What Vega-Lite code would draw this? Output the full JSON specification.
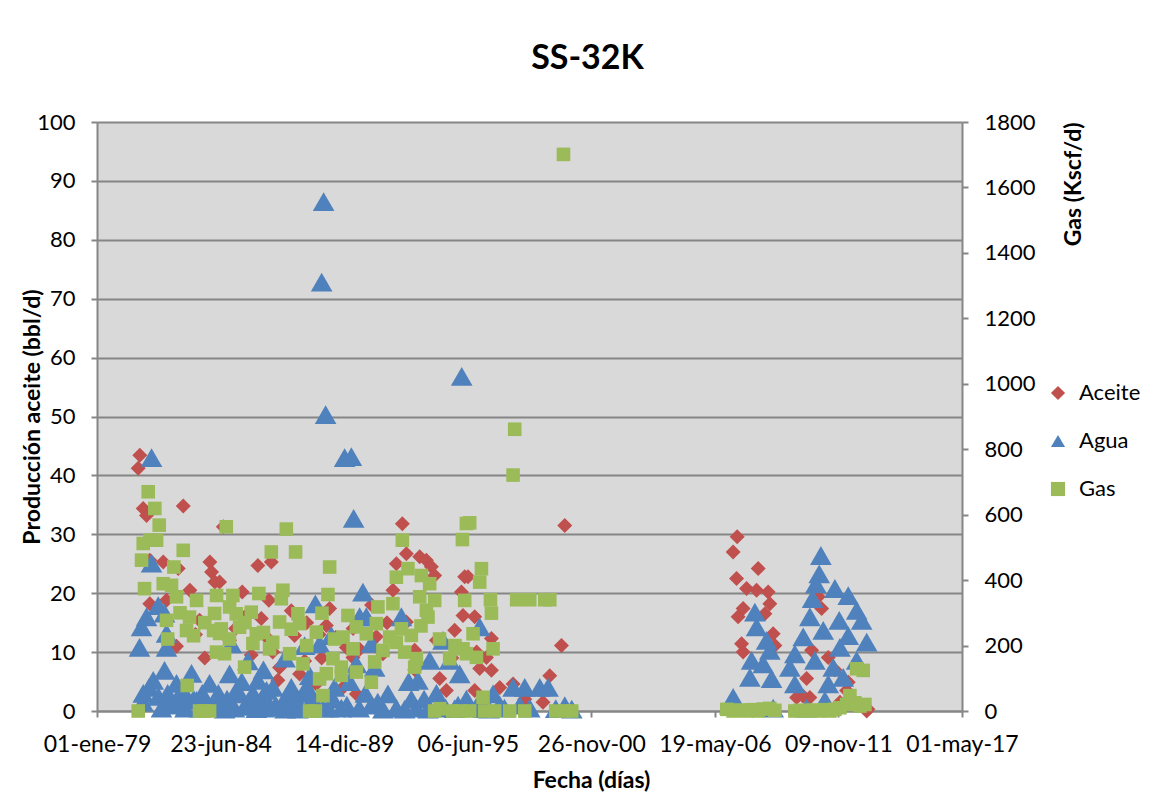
{
  "$schema": "https://vega.github.io/schema/vega-lite/v6.json",
  "width": 865,
  "height": 589,
  "autosize": {"type": "none"},
  "padding": {"left": 97, "top": 122, "right": 203, "bottom": 82},
  "background": "white",
  "title": {"text": "SS-32K", "font": "Lato", "fontSize": 34, "fontWeight": "bold", "color": "black", "anchor": "middle", "dx": 58, "offset": 8, "baseline": "alphabetic"},
  "config": {
    "view": {"fill": "#d9d9d9", "stroke": null},
    "axis": {"labelFont": "Lato", "titleFont": "Lato", "labelColor": "black", "titleColor": "black", "labelFontSize": 22, "titleFontSize": 23, "titleFontWeight": "bold", "domainColor": "#868686", "domainWidth": 2, "tickColor": "#868686", "tickWidth": 2, "tickSize": 6, "labelPadding": 16, "gridColor": "#868686", "gridWidth": 2, "gridOpacity": 1},
    "legend": {"labelFont": "Lato", "labelFontSize": 22, "labelColor": "black", "padding": 0}
  },
  "datasets": {
    "prod": [
      {"fecha": 29549, "serie": "Aceite", "valor": 43.4},
      {"fecha": 29523, "serie": "Aceite", "valor": 41.2},
      {"fecha": 29604, "serie": "Aceite", "valor": 34.4},
      {"fecha": 29658, "serie": "Aceite", "valor": 33.2},
      {"fecha": 30252, "serie": "Aceite", "valor": 34.8},
      {"fecha": 30900, "serie": "Aceite", "valor": 31.3},
      {"fecha": 29711, "serie": "Aceite", "valor": 25.6},
      {"fecha": 29928, "serie": "Aceite", "valor": 25.3},
      {"fecha": 30171, "serie": "Aceite", "valor": 24.2},
      {"fecha": 30683, "serie": "Aceite", "valor": 25.3},
      {"fecha": 30710, "serie": "Aceite", "valor": 23.6},
      {"fecha": 30764, "serie": "Aceite", "valor": 21.9},
      {"fecha": 30359, "serie": "Aceite", "valor": 20.5},
      {"fecha": 29711, "serie": "Aceite", "valor": 18.2},
      {"fecha": 29981, "serie": "Aceite", "valor": 18.8},
      {"fecha": 31460, "serie": "Aceite", "valor": 24.7},
      {"fecha": 31677, "serie": "Aceite", "valor": 25.3},
      {"fecha": 30840, "serie": "Aceite", "valor": 21.9},
      {"fecha": 31207, "serie": "Aceite", "valor": 20.2},
      {"fecha": 31638, "serie": "Aceite", "valor": 18.8},
      {"fecha": 32621, "serie": "Aceite", "valor": 17.4},
      {"fecha": 31515, "serie": "Aceite", "valor": 15.7},
      {"fecha": 32054, "serie": "Aceite", "valor": 12.8},
      {"fecha": 32568, "serie": "Aceite", "valor": 14.5},
      {"fecha": 31811, "serie": "Aceite", "valor": 7.4},
      {"fecha": 31784, "serie": "Aceite", "valor": 5.2},
      {"fecha": 32135, "serie": "Aceite", "valor": 6.3},
      {"fecha": 32837, "serie": "Aceite", "valor": 4.0},
      {"fecha": 32406, "serie": "Aceite", "valor": 4.6},
      {"fecha": 33798, "serie": "Aceite", "valor": 31.8},
      {"fecha": 33863, "serie": "Aceite", "valor": 26.7},
      {"fecha": 34079, "serie": "Aceite", "valor": 26.2},
      {"fecha": 34187, "serie": "Aceite", "valor": 25.6},
      {"fecha": 33701, "serie": "Aceite", "valor": 25.0},
      {"fecha": 34268, "serie": "Aceite", "valor": 24.5},
      {"fecha": 34321, "serie": "Aceite", "valor": 23.0},
      {"fecha": 33646, "serie": "Aceite", "valor": 20.5},
      {"fecha": 34807, "serie": "Aceite", "valor": 22.8},
      {"fecha": 34754, "serie": "Aceite", "valor": 20.2},
      {"fecha": 34780, "serie": "Aceite", "valor": 16.2},
      {"fecha": 33863, "serie": "Aceite", "valor": 15.1},
      {"fecha": 33377, "serie": "Aceite", "valor": 12.6},
      {"fecha": 34645, "serie": "Aceite", "valor": 13.7},
      {"fecha": 32892, "serie": "Aceite", "valor": 10.8},
      {"fecha": 32998, "serie": "Aceite", "valor": 9.1},
      {"fecha": 33054, "serie": "Aceite", "valor": 2.9},
      {"fecha": 34511, "serie": "Aceite", "valor": 3.5},
      {"fecha": 36427, "serie": "Aceite", "valor": 31.5},
      {"fecha": 34861, "serie": "Aceite", "valor": 22.8},
      {"fecha": 34969, "serie": "Aceite", "valor": 16.0},
      {"fecha": 35240, "serie": "Aceite", "valor": 12.3},
      {"fecha": 35159, "serie": "Aceite", "valor": 9.1},
      {"fecha": 35050, "serie": "Aceite", "valor": 7.2},
      {"fecha": 35240, "serie": "Aceite", "valor": 6.9},
      {"fecha": 36373, "serie": "Aceite", "valor": 11.1},
      {"fecha": 36184, "serie": "Aceite", "valor": 6.0},
      {"fecha": 34969, "serie": "Aceite", "valor": 3.5},
      {"fecha": 35590, "serie": "Aceite", "valor": 4.6},
      {"fecha": 36075, "serie": "Aceite", "valor": 1.5},
      {"fecha": 30516, "serie": "Aceite", "valor": 15.4},
      {"fecha": 31002, "serie": "Aceite", "valor": 12.0},
      {"fecha": 31353, "serie": "Aceite", "valor": 9.5},
      {"fecha": 32216, "serie": "Aceite", "valor": 8.5},
      {"fecha": 32718, "serie": "Aceite", "valor": 12.5},
      {"fecha": 33107, "serie": "Aceite", "valor": 10.5},
      {"fecha": 33484, "serie": "Aceite", "valor": 9.7},
      {"fecha": 33998, "serie": "Aceite", "valor": 10.3},
      {"fecha": 34402, "serie": "Aceite", "valor": 5.5},
      {"fecha": 35374, "serie": "Aceite", "valor": 4.0},
      {"fecha": 35779, "serie": "Aceite", "valor": 2.0},
      {"fecha": 31649, "serie": "Aceite", "valor": 12.0},
      {"fecha": 32492, "serie": "Aceite", "valor": 9.0},
      {"fecha": 30143, "serie": "Aceite", "valor": 11.0},
      {"fecha": 30450, "serie": "Aceite", "valor": 13.0},
      {"fecha": 30600, "serie": "Aceite", "valor": 9.0},
      {"fecha": 31100, "serie": "Aceite", "valor": 14.0},
      {"fecha": 31250, "serie": "Aceite", "valor": 16.0},
      {"fecha": 31700, "serie": "Aceite", "valor": 10.0},
      {"fecha": 32000, "serie": "Aceite", "valor": 17.0},
      {"fecha": 32250, "serie": "Aceite", "valor": 15.0},
      {"fecha": 32450, "serie": "Aceite", "valor": 13.0},
      {"fecha": 33000, "serie": "Aceite", "valor": 14.0},
      {"fecha": 33300, "serie": "Aceite", "valor": 18.0},
      {"fecha": 33550, "serie": "Aceite", "valor": 15.0},
      {"fecha": 34000, "serie": "Aceite", "valor": 7.0},
      {"fecha": 34350, "serie": "Aceite", "valor": 12.0},
      {"fecha": 34600, "serie": "Aceite", "valor": 9.0},
      {"fecha": 35000, "serie": "Aceite", "valor": 10.0},
      {"fecha": 39217, "serie": "Aceite", "valor": 29.6},
      {"fecha": 39152, "serie": "Aceite", "valor": 27.0},
      {"fecha": 39557, "serie": "Aceite", "valor": 24.2},
      {"fecha": 39207, "serie": "Aceite", "valor": 22.5},
      {"fecha": 39369, "serie": "Aceite", "valor": 20.8},
      {"fecha": 39531, "serie": "Aceite", "valor": 20.5},
      {"fecha": 39719, "serie": "Aceite", "valor": 20.2},
      {"fecha": 39746, "serie": "Aceite", "valor": 18.2},
      {"fecha": 39314, "serie": "Aceite", "valor": 17.4},
      {"fecha": 39233, "serie": "Aceite", "valor": 16.0},
      {"fecha": 39666, "serie": "Aceite", "valor": 16.5},
      {"fecha": 39800, "serie": "Aceite", "valor": 13.1},
      {"fecha": 39288, "serie": "Aceite", "valor": 11.4},
      {"fecha": 39314, "serie": "Aceite", "valor": 10.0},
      {"fecha": 39827, "serie": "Aceite", "valor": 11.1},
      {"fecha": 40341, "serie": "Aceite", "valor": 5.5},
      {"fecha": 40179, "serie": "Aceite", "valor": 2.3},
      {"fecha": 40394, "serie": "Aceite", "valor": 2.3},
      {"fecha": 40691, "serie": "Aceite", "valor": 9.1},
      {"fecha": 41015, "serie": "Aceite", "valor": 4.9},
      {"fecha": 40989, "serie": "Aceite", "valor": 3.5},
      {"fecha": 41313, "serie": "Aceite", "valor": 0.0},
      {"fecha": 40880, "serie": "Aceite", "valor": 1.5},
      {"fecha": 40422, "serie": "Aceite", "valor": 10.3},
      {"fecha": 40529, "serie": "Aceite", "valor": 19.4},
      {"fecha": 40584, "serie": "Aceite", "valor": 17.4},
      {"fecha": 41334, "serie": "Aceite", "valor": 0.3},
      {"fecha": 40286, "serie": "Aceite", "valor": 2.5},
      {"fecha": 40799, "serie": "Aceite", "valor": 7.0},

      {"fecha": 29739, "serie": "Agua", "valor": 43.0},
      {"fecha": 29739, "serie": "Agua", "valor": 25.1},
      {"fecha": 29847, "serie": "Agua", "valor": 17.9},
      {"fecha": 29658, "serie": "Agua", "valor": 16.0},
      {"fecha": 29577, "serie": "Agua", "valor": 14.3},
      {"fecha": 29544, "serie": "Agua", "valor": 10.8},
      {"fecha": 29949, "serie": "Agua", "valor": 16.6},
      {"fecha": 29981, "serie": "Agua", "valor": 13.2},
      {"fecha": 29981, "serie": "Agua", "valor": 10.8},
      {"fecha": 29604, "serie": "Agua", "valor": 3.0},
      {"fecha": 29766, "serie": "Agua", "valor": 5.2},
      {"fecha": 29949, "serie": "Agua", "valor": 6.9},
      {"fecha": 30143, "serie": "Agua", "valor": 4.7},
      {"fecha": 30386, "serie": "Agua", "valor": 6.4},
      {"fecha": 30678, "serie": "Agua", "valor": 4.7},
      {"fecha": 30791, "serie": "Agua", "valor": 1.8},
      {"fecha": 30467, "serie": "Agua", "valor": 1.8},
      {"fecha": 30197, "serie": "Agua", "valor": 1.8},
      {"fecha": 32524, "serie": "Agua", "valor": 86.5},
      {"fecha": 32492, "serie": "Agua", "valor": 72.8},
      {"fecha": 32556, "serie": "Agua", "valor": 50.3},
      {"fecha": 32864, "serie": "Agua", "valor": 43.0},
      {"fecha": 32973, "serie": "Agua", "valor": 43.2},
      {"fecha": 33010, "serie": "Agua", "valor": 32.7},
      {"fecha": 34759, "serie": "Agua", "valor": 56.8},
      {"fecha": 32390, "serie": "Agua", "valor": 18.2},
      {"fecha": 31029, "serie": "Agua", "valor": 11.4},
      {"fecha": 32216, "serie": "Agua", "valor": 11.1},
      {"fecha": 32459, "serie": "Agua", "valor": 11.4},
      {"fecha": 32649, "serie": "Agua", "valor": 12.8},
      {"fecha": 31002, "serie": "Agua", "valor": 6.3},
      {"fecha": 31460, "serie": "Agua", "valor": 5.2},
      {"fecha": 31703, "serie": "Agua", "valor": 4.0},
      {"fecha": 32001, "serie": "Agua", "valor": 4.0},
      {"fecha": 31164, "serie": "Agua", "valor": 2.9},
      {"fecha": 33160, "serie": "Agua", "valor": 20.2},
      {"fecha": 34456, "serie": "Agua", "valor": 12.0},
      {"fecha": 34240, "serie": "Agua", "valor": 8.6},
      {"fecha": 34051, "serie": "Agua", "valor": 5.2},
      {"fecha": 34726, "serie": "Agua", "valor": 6.3},
      {"fecha": 34564, "serie": "Agua", "valor": 8.6},
      {"fecha": 33782, "serie": "Agua", "valor": 16.0},
      {"fecha": 33350, "serie": "Agua", "valor": 7.4},
      {"fecha": 33565, "serie": "Agua", "valor": 2.9},
      {"fecha": 33107, "serie": "Agua", "valor": 16.0},
      {"fecha": 33215, "serie": "Agua", "valor": 16.0},
      {"fecha": 35050, "serie": "Agua", "valor": 14.3},
      {"fecha": 35779, "serie": "Agua", "valor": 4.0},
      {"fecha": 35590, "serie": "Agua", "valor": 4.0},
      {"fecha": 36022, "serie": "Agua", "valor": 4.0},
      {"fecha": 36156, "serie": "Agua", "valor": 4.0},
      {"fecha": 35266, "serie": "Agua", "valor": 2.9},
      {"fecha": 36427, "serie": "Agua", "valor": 0.9},
      {"fecha": 30516, "serie": "Agua", "valor": 0.5},
      {"fecha": 30921, "serie": "Agua", "valor": 0.3},
      {"fecha": 31245, "serie": "Agua", "valor": 0.8},
      {"fecha": 31434, "serie": "Agua", "valor": 0.4},
      {"fecha": 31649, "serie": "Agua", "valor": 1.0},
      {"fecha": 31865, "serie": "Agua", "valor": 0.6},
      {"fecha": 32108, "serie": "Agua", "valor": 0.3},
      {"fecha": 32297, "serie": "Agua", "valor": 1.2},
      {"fecha": 32513, "serie": "Agua", "valor": 0.5},
      {"fecha": 32811, "serie": "Agua", "valor": 0.5},
      {"fecha": 33296, "serie": "Agua", "valor": 1.0},
      {"fecha": 33484, "serie": "Agua", "valor": 0.3},
      {"fecha": 33836, "serie": "Agua", "valor": 0.3},
      {"fecha": 34025, "serie": "Agua", "valor": 0.5},
      {"fecha": 34213, "serie": "Agua", "valor": 0.3},
      {"fecha": 34402, "serie": "Agua", "valor": 0.8},
      {"fecha": 34645, "serie": "Agua", "valor": 0.4},
      {"fecha": 35104, "serie": "Agua", "valor": 0.4},
      {"fecha": 35374, "serie": "Agua", "valor": 1.0},
      {"fecha": 35860, "serie": "Agua", "valor": 0.5},
      {"fecha": 36281, "serie": "Agua", "valor": 0.4},
      {"fecha": 36540, "serie": "Agua", "valor": 0.3},
      {"fecha": 30305, "serie": "Agua", "valor": 2.5},
      {"fecha": 31110, "serie": "Agua", "valor": 3.5},
      {"fecha": 31515, "serie": "Agua", "valor": 2.0},
      {"fecha": 31920, "serie": "Agua", "valor": 2.5},
      {"fecha": 32189, "serie": "Agua", "valor": 3.0},
      {"fecha": 32675, "serie": "Agua", "valor": 2.0},
      {"fecha": 32945, "serie": "Agua", "valor": 5.0},
      {"fecha": 33054, "serie": "Agua", "valor": 8.0},
      {"fecha": 33944, "serie": "Agua", "valor": 2.0},
      {"fecha": 34835, "serie": "Agua", "valor": 2.0},
      {"fecha": 29600, "serie": "Agua", "valor": 1.5},
      {"fecha": 29700, "serie": "Agua", "valor": 4.0},
      {"fecha": 29850, "serie": "Agua", "valor": 2.5},
      {"fecha": 29900, "serie": "Agua", "valor": 0.5},
      {"fecha": 30000, "serie": "Agua", "valor": 3.0},
      {"fecha": 30050, "serie": "Agua", "valor": 1.0},
      {"fecha": 30230, "serie": "Agua", "valor": 3.5},
      {"fecha": 30280, "serie": "Agua", "valor": 0.5},
      {"fecha": 30420, "serie": "Agua", "valor": 2.0},
      {"fecha": 30560, "serie": "Agua", "valor": 3.0},
      {"fecha": 30620, "serie": "Agua", "valor": 1.0},
      {"fecha": 30740, "serie": "Agua", "valor": 0.8},
      {"fecha": 30820, "serie": "Agua", "valor": 3.0},
      {"fecha": 30960, "serie": "Agua", "valor": 2.0},
      {"fecha": 31080, "serie": "Agua", "valor": 0.5},
      {"fecha": 31200, "serie": "Agua", "valor": 5.0},
      {"fecha": 31300, "serie": "Agua", "valor": 1.5},
      {"fecha": 31380, "serie": "Agua", "valor": 3.0},
      {"fecha": 31560, "serie": "Agua", "valor": 0.5},
      {"fecha": 31600, "serie": "Agua", "valor": 3.5},
      {"fecha": 31750, "serie": "Agua", "valor": 1.0},
      {"fecha": 31900, "serie": "Agua", "valor": 0.3},
      {"fecha": 32040, "serie": "Agua", "valor": 1.5},
      {"fecha": 32160, "serie": "Agua", "valor": 0.5},
      {"fecha": 32260, "serie": "Agua", "valor": 4.0},
      {"fecha": 32350, "serie": "Agua", "valor": 2.0},
      {"fecha": 32600, "serie": "Agua", "valor": 0.5},
      {"fecha": 32700, "serie": "Agua", "valor": 4.0},
      {"fecha": 32900, "serie": "Agua", "valor": 1.0},
      {"fecha": 33100, "serie": "Agua", "valor": 0.5},
      {"fecha": 33200, "serie": "Agua", "valor": 3.0},
      {"fecha": 33400, "serie": "Agua", "valor": 1.5},
      {"fecha": 33700, "serie": "Agua", "valor": 0.5},
      {"fecha": 33900, "serie": "Agua", "valor": 5.0},
      {"fecha": 34150, "serie": "Agua", "valor": 2.0},
      {"fecha": 34350, "serie": "Agua", "valor": 3.0},
      {"fecha": 34500, "serie": "Agua", "valor": 0.5},
      {"fecha": 34700, "serie": "Agua", "valor": 1.0},
      {"fecha": 35000, "serie": "Agua", "valor": 0.8},
      {"fecha": 35200, "serie": "Agua", "valor": 0.3},
      {"fecha": 35450, "serie": "Agua", "valor": 0.5},
      {"fecha": 35700, "serie": "Agua", "valor": 1.0},
      {"fecha": 31300, "serie": "Agua", "valor": 8.5},
      {"fecha": 31550, "serie": "Agua", "valor": 7.0},
      {"fecha": 31900, "serie": "Agua", "valor": 9.0},
      {"fecha": 32300, "serie": "Agua", "valor": 6.0},
      {"fecha": 33300, "serie": "Agua", "valor": 11.5},
      {"fecha": 39504, "serie": "Agua", "valor": 16.8},
      {"fecha": 39531, "serie": "Agua", "valor": 14.3},
      {"fecha": 39693, "serie": "Agua", "valor": 12.0},
      {"fecha": 39746, "serie": "Agua", "valor": 10.3},
      {"fecha": 39450, "serie": "Agua", "valor": 8.6},
      {"fecha": 39423, "serie": "Agua", "valor": 5.7},
      {"fecha": 39774, "serie": "Agua", "valor": 5.5},
      {"fecha": 39152, "serie": "Agua", "valor": 2.3},
      {"fecha": 39638, "serie": "Agua", "valor": 8.0},
      {"fecha": 40572, "serie": "Agua", "valor": 26.4},
      {"fecha": 40545, "serie": "Agua", "valor": 23.3},
      {"fecha": 40491, "serie": "Agua", "valor": 21.6},
      {"fecha": 40799, "serie": "Agua", "valor": 20.8},
      {"fecha": 41015, "serie": "Agua", "valor": 19.6},
      {"fecha": 40438, "serie": "Agua", "valor": 19.1},
      {"fecha": 41151, "serie": "Agua", "valor": 17.1},
      {"fecha": 41232, "serie": "Agua", "valor": 15.4},
      {"fecha": 40394, "serie": "Agua", "valor": 16.0},
      {"fecha": 40869, "serie": "Agua", "valor": 15.4},
      {"fecha": 40610, "serie": "Agua", "valor": 13.7},
      {"fecha": 41313, "serie": "Agua", "valor": 11.7},
      {"fecha": 41015, "serie": "Agua", "valor": 12.8},
      {"fecha": 40286, "serie": "Agua", "valor": 12.6},
      {"fecha": 40880, "serie": "Agua", "valor": 10.8},
      {"fecha": 40151, "serie": "Agua", "valor": 9.7},
      {"fecha": 40070, "serie": "Agua", "valor": 7.4},
      {"fecha": 40475, "serie": "Agua", "valor": 8.6},
      {"fecha": 40772, "serie": "Agua", "valor": 7.4},
      {"fecha": 40691, "serie": "Agua", "valor": 4.6},
      {"fecha": 40151, "serie": "Agua", "valor": 4.6},
      {"fecha": 41151, "serie": "Agua", "valor": 8.6},
      {"fecha": 40934, "serie": "Agua", "valor": 5.7},
      {"fecha": 40637, "serie": "Agua", "valor": 1.8},
      {"fecha": 39099, "serie": "Agua", "valor": 1.0},
      {"fecha": 39800, "serie": "Agua", "valor": 0.5},
      {"fecha": 40341, "serie": "Agua", "valor": 0.5},

      {"fecha": 29685, "serie": "Gas", "valor": 670},
      {"fecha": 29792, "serie": "Gas", "valor": 619},
      {"fecha": 29863, "serie": "Gas", "valor": 568},
      {"fecha": 29711, "serie": "Gas", "valor": 522},
      {"fecha": 29604, "serie": "Gas", "valor": 512},
      {"fecha": 29820, "serie": "Gas", "valor": 522},
      {"fecha": 30252, "serie": "Gas", "valor": 491},
      {"fecha": 29577, "serie": "Gas", "valor": 461},
      {"fecha": 30100, "serie": "Gas", "valor": 440},
      {"fecha": 29625, "serie": "Gas", "valor": 374},
      {"fecha": 29928, "serie": "Gas", "valor": 389},
      {"fecha": 30062, "serie": "Gas", "valor": 384},
      {"fecha": 30143, "serie": "Gas", "valor": 349},
      {"fecha": 30467, "serie": "Gas", "valor": 338},
      {"fecha": 30791, "serie": "Gas", "valor": 353},
      {"fecha": 29981, "serie": "Gas", "valor": 277},
      {"fecha": 30354, "serie": "Gas", "valor": 287},
      {"fecha": 30305, "serie": "Gas", "valor": 246},
      {"fecha": 30419, "serie": "Gas", "valor": 230},
      {"fecha": 30759, "serie": "Gas", "valor": 298},
      {"fecha": 30743, "serie": "Gas", "valor": 246},
      {"fecha": 30840, "serie": "Gas", "valor": 237},
      {"fecha": 30791, "serie": "Gas", "valor": 180},
      {"fecha": 30317, "serie": "Gas", "valor": 78},
      {"fecha": 29523, "serie": "Gas", "valor": 0},
      {"fecha": 30516, "serie": "Gas", "valor": 0},
      {"fecha": 30597, "serie": "Gas", "valor": 0},
      {"fecha": 30678, "serie": "Gas", "valor": 0},
      {"fecha": 30948, "serie": "Gas", "valor": 563},
      {"fecha": 31920, "serie": "Gas", "valor": 556},
      {"fecha": 31677, "serie": "Gas", "valor": 486},
      {"fecha": 32070, "serie": "Gas", "valor": 486},
      {"fecha": 32621, "serie": "Gas", "valor": 440},
      {"fecha": 31476, "serie": "Gas", "valor": 359},
      {"fecha": 31865, "serie": "Gas", "valor": 369},
      {"fecha": 31839, "serie": "Gas", "valor": 343},
      {"fecha": 32594, "serie": "Gas", "valor": 356},
      {"fecha": 31055, "serie": "Gas", "valor": 353},
      {"fecha": 31002, "serie": "Gas", "valor": 318},
      {"fecha": 31110, "serie": "Gas", "valor": 297},
      {"fecha": 31353, "serie": "Gas", "valor": 302},
      {"fecha": 32108, "serie": "Gas", "valor": 297},
      {"fecha": 32497, "serie": "Gas", "valor": 299},
      {"fecha": 30867, "serie": "Gas", "valor": 251},
      {"fecha": 31164, "serie": "Gas", "valor": 256},
      {"fecha": 31434, "serie": "Gas", "valor": 236},
      {"fecha": 31811, "serie": "Gas", "valor": 272},
      {"fecha": 32135, "serie": "Gas", "valor": 267},
      {"fecha": 32406, "serie": "Gas", "valor": 241},
      {"fecha": 30921, "serie": "Gas", "valor": 175},
      {"fecha": 31379, "serie": "Gas", "valor": 206},
      {"fecha": 31649, "serie": "Gas", "valor": 190},
      {"fecha": 31973, "serie": "Gas", "valor": 175},
      {"fecha": 32189, "serie": "Gas", "valor": 144},
      {"fecha": 32675, "serie": "Gas", "valor": 160},
      {"fecha": 31245, "serie": "Gas", "valor": 134},
      {"fecha": 32811, "serie": "Gas", "valor": 109},
      {"fecha": 32568, "serie": "Gas", "valor": 114},
      {"fecha": 32459, "serie": "Gas", "valor": 98},
      {"fecha": 32513, "serie": "Gas", "valor": 47},
      {"fecha": 32297, "serie": "Gas", "valor": 0},
      {"fecha": 32390, "serie": "Gas", "valor": 0},
      {"fecha": 30000, "serie": "Gas", "valor": 220},
      {"fecha": 30200, "serie": "Gas", "valor": 300},
      {"fecha": 30600, "serie": "Gas", "valor": 270},
      {"fecha": 31000, "serie": "Gas", "valor": 220},
      {"fecha": 31250, "serie": "Gas", "valor": 270},
      {"fecha": 31550, "serie": "Gas", "valor": 240},
      {"fecha": 31700, "serie": "Gas", "valor": 210},
      {"fecha": 32000, "serie": "Gas", "valor": 250},
      {"fecha": 32250, "serie": "Gas", "valor": 200},
      {"fecha": 32700, "serie": "Gas", "valor": 220},
      {"fecha": 33000, "serie": "Gas", "valor": 190},
      {"fecha": 33350, "serie": "Gas", "valor": 150},
      {"fecha": 33700, "serie": "Gas", "valor": 210},
      {"fecha": 34100, "serie": "Gas", "valor": 260},
      {"fecha": 34400, "serie": "Gas", "valor": 220},
      {"fecha": 34650, "serie": "Gas", "valor": 200},
      {"fecha": 33798, "serie": "Gas", "valor": 522},
      {"fecha": 34835, "serie": "Gas", "valor": 573},
      {"fecha": 34770, "serie": "Gas", "valor": 524},
      {"fecha": 33889, "serie": "Gas", "valor": 435},
      {"fecha": 33701, "serie": "Gas", "valor": 409},
      {"fecha": 34106, "serie": "Gas", "valor": 414},
      {"fecha": 34240, "serie": "Gas", "valor": 389},
      {"fecha": 34079, "serie": "Gas", "valor": 349},
      {"fecha": 34321, "serie": "Gas", "valor": 338},
      {"fecha": 34187, "serie": "Gas", "valor": 308},
      {"fecha": 34213, "serie": "Gas", "valor": 287},
      {"fecha": 34807, "serie": "Gas", "valor": 338},
      {"fecha": 33646, "serie": "Gas", "valor": 328},
      {"fecha": 33403, "serie": "Gas", "valor": 318},
      {"fecha": 32917, "serie": "Gas", "valor": 292},
      {"fecha": 33054, "serie": "Gas", "valor": 257},
      {"fecha": 33377, "serie": "Gas", "valor": 267},
      {"fecha": 33215, "serie": "Gas", "valor": 236},
      {"fecha": 33593, "serie": "Gas", "valor": 226},
      {"fecha": 33782, "serie": "Gas", "valor": 251},
      {"fecha": 33944, "serie": "Gas", "valor": 231},
      {"fecha": 32837, "serie": "Gas", "valor": 226},
      {"fecha": 33484, "serie": "Gas", "valor": 185},
      {"fecha": 33836, "serie": "Gas", "valor": 180},
      {"fecha": 34025, "serie": "Gas", "valor": 160},
      {"fecha": 34564, "serie": "Gas", "valor": 160},
      {"fecha": 33998, "serie": "Gas", "valor": 134},
      {"fecha": 33054, "serie": "Gas", "valor": 119},
      {"fecha": 33296, "serie": "Gas", "valor": 88},
      {"fecha": 34780, "serie": "Gas", "valor": 190},
      {"fecha": 32811, "serie": "Gas", "valor": 134},
      {"fecha": 34402, "serie": "Gas", "valor": 7},
      {"fecha": 34613, "serie": "Gas", "valor": 0},
      {"fecha": 35617, "serie": "Gas", "valor": 861},
      {"fecha": 35590, "serie": "Gas", "valor": 721},
      {"fecha": 34888, "serie": "Gas", "valor": 575},
      {"fecha": 35078, "serie": "Gas", "valor": 435},
      {"fecha": 35050, "serie": "Gas", "valor": 394},
      {"fecha": 35224, "serie": "Gas", "valor": 340},
      {"fecha": 35240, "serie": "Gas", "valor": 299},
      {"fecha": 35649, "serie": "Gas", "valor": 340},
      {"fecha": 35860, "serie": "Gas", "valor": 340},
      {"fecha": 36103, "serie": "Gas", "valor": 340},
      {"fecha": 36184, "serie": "Gas", "valor": 340},
      {"fecha": 34942, "serie": "Gas", "valor": 236},
      {"fecha": 35266, "serie": "Gas", "valor": 190},
      {"fecha": 34835, "serie": "Gas", "valor": 175},
      {"fecha": 34997, "serie": "Gas", "valor": 164},
      {"fecha": 35104, "serie": "Gas", "valor": 42},
      {"fecha": 36406, "serie": "Gas", "valor": 1701},
      {"fecha": 34726, "serie": "Gas", "valor": 0},
      {"fecha": 34888, "serie": "Gas", "valor": 0},
      {"fecha": 35131, "serie": "Gas", "valor": 0},
      {"fecha": 35293, "serie": "Gas", "valor": 0},
      {"fecha": 35536, "serie": "Gas", "valor": 0},
      {"fecha": 35779, "serie": "Gas", "valor": 0},
      {"fecha": 36281, "serie": "Gas", "valor": 0},
      {"fecha": 36427, "serie": "Gas", "valor": 0},
      {"fecha": 36540, "serie": "Gas", "valor": 0},
      {"fecha": 34321, "serie": "Gas", "valor": 0},
      {"fecha": 41257, "serie": "Gas", "valor": 124},
      {"fecha": 41151, "serie": "Gas", "valor": 129},
      {"fecha": 41042, "serie": "Gas", "valor": 47},
      {"fecha": 39050, "serie": "Gas", "valor": 5},
      {"fecha": 39152, "serie": "Gas", "valor": 0},
      {"fecha": 39261, "serie": "Gas", "valor": 3},
      {"fecha": 39369, "serie": "Gas", "valor": 0},
      {"fecha": 39450, "serie": "Gas", "valor": 4},
      {"fecha": 39557, "serie": "Gas", "valor": 0},
      {"fecha": 39638, "serie": "Gas", "valor": 6},
      {"fecha": 39746, "serie": "Gas", "valor": 8},
      {"fecha": 39827, "serie": "Gas", "valor": 2},
      {"fecha": 40151, "serie": "Gas", "valor": 0},
      {"fecha": 40232, "serie": "Gas", "valor": 2},
      {"fecha": 40341, "serie": "Gas", "valor": 0},
      {"fecha": 40438, "serie": "Gas", "valor": 3},
      {"fecha": 40529, "serie": "Gas", "valor": 0},
      {"fecha": 40637, "serie": "Gas", "valor": 4},
      {"fecha": 40718, "serie": "Gas", "valor": 0},
      {"fecha": 40799, "serie": "Gas", "valor": 5},
      {"fecha": 40880, "serie": "Gas", "valor": 10},
      {"fecha": 40989, "serie": "Gas", "valor": 20},
      {"fecha": 41123, "serie": "Gas", "valor": 25},
      {"fecha": 41204, "serie": "Gas", "valor": 15},
      {"fecha": 41285, "serie": "Gas", "valor": 20}
    ]
  },
  "data": {"name": "prod"},
  "layer": [
    {
      "layer": [
        {
          "transform": [{"filter": "datum.serie === 'Aceite'"}],
          "mark": {"type": "point", "filled": true, "opacity": 1, "size": 225, "strokeWidth": 0},
          "encoding": {
            "x": {"field": "fecha", "type": "quantitative", "scale": {"domain": [28856, 42856], "nice": false, "zero": false},
              "axis": {"title": "Fecha (días)", "grid": false, "values": [28856, 30856, 32856, 34856, 36856, 38856, 40856, 42856], "labelFlush": false, "labelOverlap": false, "labelBound": false, "labelFontSize": 23, "labelPadding": 16, "titleX": 494, "titleY": 76, "titleBaseline": "alphabetic", "titleAlign": "center",
                "labelExpr": "utcFormat((datum.value-25569)*864e5,'%d') + '-' + ['ene','feb','mar','abr','may','jun','jul','ago','sep','oct','nov','dic'][utcmonth((datum.value-25569)*864e5)] + '-' + utcFormat((datum.value-25569)*864e5,'%y')"}},
            "y": {"field": "valor", "type": "quantitative", "scale": {"domain": [0, 100], "nice": false},
              "axis": {"title": "Producción aceite (bbl/d)", "values": [0, 10, 20, 30, 40, 50, 60, 70, 80, 90, 100], "grid": true, "titlePadding": -8}},
            "color": {"field": "serie", "type": "nominal", "scale": {"domain": ["Aceite", "Agua", "Gas"], "range": ["#C0504D", "#4F81BD", "#9BBB59"]},
              "legend": {"title": null, "orient": "none", "legendX": 950, "legendY": 260, "symbolSize": 200, "rowPadding": 26, "labelOffset": 10}},
            "shape": {"field": "serie", "type": "nominal", "scale": {"domain": ["Aceite", "Agua", "Gas"], "range": ["diamond", "triangle-up", "square"]},
              "legend": {"title": null, "orient": "none", "legendX": 950, "legendY": 260, "symbolSize": 200, "rowPadding": 26, "labelOffset": 10}}
          }
        },
        {
          "transform": [{"filter": "datum.serie === 'Agua'"}],
          "mark": {"type": "point", "filled": true, "opacity": 1, "size": 470, "strokeWidth": 0},
          "encoding": {
            "x": {"field": "fecha", "type": "quantitative"},
            "y": {"field": "valor", "type": "quantitative"},
            "color": {"field": "serie", "type": "nominal"},
            "shape": {"field": "serie", "type": "nominal"}
          }
        }
      ]
    },
    {
      "transform": [{"filter": "datum.serie === 'Gas'"}],
      "mark": {"type": "point", "filled": true, "opacity": 1, "size": 185, "strokeWidth": 0},
      "encoding": {
        "x": {"field": "fecha", "type": "quantitative"},
        "y": {"field": "valor", "type": "quantitative", "scale": {"domain": [0, 1800], "nice": false},
          "axis": {"orient": "right", "title": "Gas (Kscf/d)", "format": "d", "values": [0, 200, 400, 600, 800, 1000, 1200, 1400, 1600, 1800], "grid": false, "titleAngle": 270, "titleAnchor": "end", "titlePadding": 50}},
        "color": {"field": "serie", "type": "nominal"},
        "shape": {"field": "serie", "type": "nominal"}
      }
    }
  ],
  "resolve": {"scale": {"y": "independent"}}
}
